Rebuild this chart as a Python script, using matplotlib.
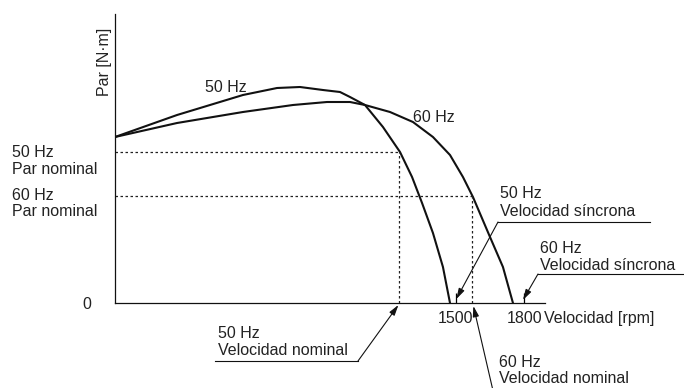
import matplotlib
matplotlib.use("Agg")
import matplotlib.pyplot as plt
from matplotlib.lines import Line2D

plt.rcParams['font.family'] = ['Liberation Sans', 'DejaVu Sans']
plt.rcParams['font.size'] = 11.5

# torque curves (speed in rpm, torque in arbitrary units)
rpm_50 = [0, 273, 563, 713, 814, 915, 990, 1034, 1100, 1179, 1254, 1307,
          1351, 1399, 1443, 1474]
par_50 = [166, 188, 208, 215, 216, 213, 211, 206, 198, 176, 151, 126,
          100, 70, 36, 0]
rpm_60 = [0, 273, 563, 783, 933, 1034, 1100, 1210, 1311, 1399, 1474, 1531,
          1575, 1650, 1707, 1751]
par_60 = [166, 180, 191, 198, 201, 201, 198, 191, 181, 166, 148, 126,
          106, 66, 36, 0]

nom_50 = (1250, 151)   # nominal speed / torque 50 Hz
nom_60 = (1571, 107)   # nominal speed / torque 60 Hz
sync_speeds = [1500, 1800]

W, H = 684, 388
fig = plt.figure(figsize=(W / 100, H / 100), dpi=100)
ax = fig.add_axes([115 / W, 85 / H, 430 / W, 289 / H])
ax.set_xlim(0, 1892)
ax.set_ylim(0, 289)

def fpx(x, y):
    # pixel position measured from top-left -> figure fraction
    return x / W, 1 - y / H

txt = dict(color='#222222', fontsize=11.5)

ax.plot(rpm_50, par_50, color='#111111', lw=1.5, solid_joinstyle='round')
ax.plot(rpm_60, par_60, color='#111111', lw=1.5, solid_joinstyle='round')

# nominal point guides
for sp, tq in (nom_50, nom_60):
    ax.plot([0, sp], [tq, tq], color='#222222', lw=0.9, ls=(0, (2, 2)))
    ax.plot([sp, sp], [0, tq], color='#222222', lw=0.9, ls=(0, (2, 2)))

for s in ('top', 'right'):
    ax.spines[s].set_visible(False)
for s in ('left', 'bottom'):
    ax.spines[s].set_linewidth(0.9)
    ax.spines[s].set_color('#111111')

ax.set_xticks(sync_speeds)
ax.set_xticklabels([str(v) for v in sync_speeds], color='#222222', fontsize=11.5)
ax.tick_params(axis='x', direction='in', length=7, width=0.9, pad=6)
ax.set_yticks([0])
ax.set_yticklabels(['0'], color='#222222', fontsize=11.5)
ax.tick_params(axis='y', length=0, pad=17)
ax.patch.set_visible(False)

# labels
fig.text(*fpx(104, 62), 'Par [N·m]', rotation=90, ha='center', va='center', **txt)
fig.text(*fpx(544, 323), 'Velocidad [rpm]', ha='left', va='baseline', **txt)
fig.text(*fpx(205, 92), '50 Hz', ha='left', va='baseline', **txt)
fig.text(*fpx(413, 122), '60 Hz', ha='left', va='baseline', **txt)

lines = [
    (12, 157, '50 Hz'), (12, 174, 'Par nominal'),
    (12, 200, '60 Hz'), (12, 216, 'Par nominal'),
    (500, 198, '50 Hz'), (500, 216, 'Velocidad síncrona'),
    (540, 253, '60 Hz'), (540, 270, 'Velocidad síncrona'),
    (218, 338, '50 Hz'), (218, 355, 'Velocidad nominal'),
    (499, 367, '60 Hz'), (499, 383, 'Velocidad nominal'),
]
for x, y, s in lines:
    fig.text(*fpx(x, y), s, ha='left', va='baseline', **txt)

# leader lines + arrows
underlines = [((498, 650), 222), ((538, 683), 274), ((215, 358), 361)]
for (x0, x1), y in underlines:
    fig.add_artist(Line2D([x0 / W, x1 / W], [1 - y / H, 1 - y / H],
                          transform=fig.transFigure, color='#111111', lw=0.8))

arrows = [
    ((1502, 4), (498, 222)),
    ((1795, 3), (538, 274)),
    ((1247, -2), (358, 361)),
    ((1577, -3), (494, 395)),
]
for target, start in arrows:
    ax.annotate('', xy=target, xycoords='data',
                xytext=(start[0], H - start[1]), textcoords='figure pixels',
                annotation_clip=False,
                arrowprops=dict(arrowstyle='-|>,head_length=0.55,head_width=0.16',
                                color='#111111', lw=0.8, shrinkA=0, shrinkB=0))

fig.savefig('out.png', dpi=100)
